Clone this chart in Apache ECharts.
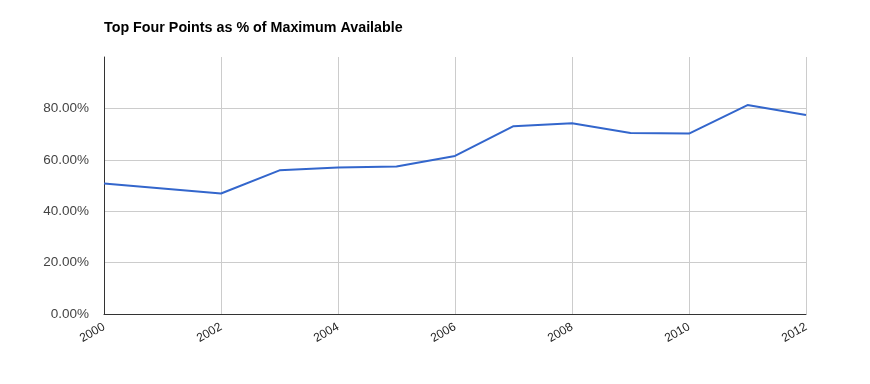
<!DOCTYPE html>
<html>
<head>
<meta charset="utf-8">
<script src="https://cdn.jsdelivr.net/npm/echarts@6/dist/echarts.min.js"></script>
<style>
html,body{margin:0;padding:0;background:#fff;}
#c{width:870px;height:384px;}
</style>
</head>
<body>
<div id="c"></div>
<script>
const titleText = "Top Four Points as % of Maximum Available";
const years = [2000, 2002, 2003, 2004, 2005, 2006, 2007, 2008, 2009, 2010, 2011, 2012];
const values = [50.8, 46.9, 55.9, 57.0, 57.4, 61.5, 73.1, 74.2, 70.4, 70.2, 81.3, 77.4];

const chart = echarts.init(document.getElementById('c'), null, {renderer: 'canvas'});
chart.setOption({
  animation: false,
  backgroundColor: '#fff',
  title: {
    text: titleText,
    left: 99,
    top: 16,
    textStyle: {fontFamily: 'Liberation Sans, Arial, sans-serif', fontSize: 14.3, fontWeight: 'bold', color: '#000'}
  },
  grid: {left: 104, right: 64, top: 57, bottom: 70, containLabel: false},
  xAxis: {
    type: 'value',
    min: 2000, max: 2012, interval: 2,
    axisLine: {show: true, lineStyle: {color: '#333', width: 1}},
    axisTick: {show: false},
    splitLine: {show: true, lineStyle: {color: '#ccc', width: 1}},
    axisLabel: {
      rotate: 30, margin: 12,
      color: '#222', fontSize: 12,
      fontFamily: 'Liberation Sans, Arial, sans-serif',
      formatter: v => String(v)
    }
  },
  yAxis: {
    type: 'value',
    min: 0, max: 100, interval: 20,
    axisLine: {show: true, lineStyle: {color: '#333', width: 1}},
    axisTick: {show: false},
    splitLine: {show: true, showMaxLine: false, lineStyle: {color: '#ccc', width: 1}},
    axisLabel: {
      showMaxLabel: false,
      margin: 15,
      color: '#444', fontSize: 13.5,
      fontFamily: 'Liberation Sans, Arial, sans-serif',
      formatter: v => v.toFixed(2) + '%'
    }
  },
  series: [{
    type: 'line',
    data: years.map((y, i) => [y, values[i]]),
    showSymbol: false,
    lineStyle: {color: '#3366cc', width: 2},
    itemStyle: {color: '#3366cc'}
  }]
});
</script>
</body>
</html>
